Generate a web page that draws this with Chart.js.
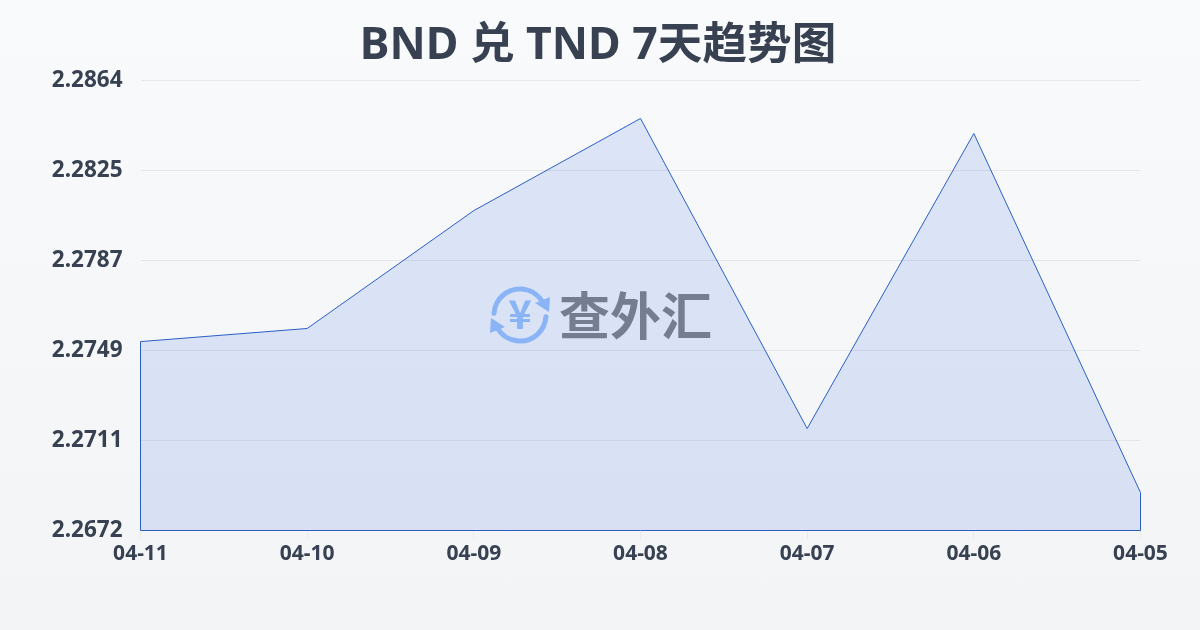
<!DOCTYPE html>
<html><head><meta charset="utf-8">
<style>html,body{margin:0;padding:0;width:1200px;height:630px;overflow:hidden;background:linear-gradient(180deg,#f9fafb 0%,#f3f4f6 100%)}canvas{display:block}</style>
<script src="https://cdn.jsdelivr.net/npm/chart.js@4"></script>
</head><body><canvas id="c" width="1200" height="630"></canvas>
<script>
const titleText = 'BND 兑 TND 7天趋势图';
const categories = ['04-11','04-10','04-09','04-08','04-07','04-06','04-05'];
const rates = [2.27526,2.27582,2.28085,2.28478,2.27155,2.28414,2.26882];
const yTickValues = [2.2672,2.27104,2.27488,2.27872,2.28256,2.2864];
const yTickLabels = ['2.2672','2.2711','2.2749','2.2787','2.2825','2.2864'];
const yMin = 2.2672, yMax = 2.2864;
const watermarkText = '查外汇';
const FONT = '"Noto Sans","Noto Sans CJK SC",sans-serif';
const CJK = '"Noto Sans CJK SC","Noto Sans",sans-serif';
const INK = '#374151', LINE = '#2b5fc7';

const outline = {
  id:'outline',
  afterLayout(ch){ ch.titleBlock.right = 1196; },
  afterDatasetsDraw(ch){
    const {ctx,scales:{x,y}} = ch;
    const b = y.getPixelForValue(yMin);
    ctx.save();
    ctx.strokeStyle = LINE; ctx.lineWidth = 1;
    ctx.beginPath();
    ctx.moveTo(x.getPixelForValue(0), y.getPixelForValue(rates[0]));
    ctx.lineTo(x.getPixelForValue(0), b);
    ctx.lineTo(x.getPixelForValue(rates.length-1), b);
    ctx.lineTo(x.getPixelForValue(rates.length-1), y.getPixelForValue(rates[rates.length-1]));
    ctx.stroke();
    ctx.restore();
  }
};
const watermark = {
  id:'watermark',
  afterDraw(ch){
    const {ctx} = ch;
    ctx.save();
    const cx = 520, cy = 315, r = 26;
    ctx.strokeStyle = '#8ab4f5'; ctx.fillStyle = '#8ab4f5';
    ctx.lineWidth = 5; ctx.lineCap = 'round';
    ctx.beginPath(); ctx.arc(cx,cy,r,Math.PI*1.02,Math.PI*1.85); ctx.stroke();
    ctx.beginPath(); ctx.arc(cx,cy,r,Math.PI*0.02,Math.PI*0.85); ctx.stroke();
    ctx.beginPath(); ctx.moveTo(550,297); ctx.lineTo(549,312); ctx.lineTo(535,303); ctx.closePath(); ctx.fill();
    ctx.beginPath(); ctx.moveTo(490,333); ctx.lineTo(491,318); ctx.lineTo(505,327); ctx.closePath(); ctx.fill();
    ctx.font = 'bold 40px '+CJK; ctx.textAlign='center'; ctx.textBaseline='middle';
    ctx.fillText('¥',cx,cy-1);
    ctx.fillStyle = '#747e90';
    ctx.font = 'bold 51px '+CJK; ctx.textAlign='left';
    ctx.fillText(watermarkText,559,316);
    ctx.restore();
  }
};
new Chart(document.getElementById('c'),{
  type:'line',
  data:{labels:categories,datasets:[{
    data:rates,
    borderColor:LINE,borderWidth:1,tension:0,pointRadius:0,pointHoverRadius:0,
    fill:'start',backgroundColor:'rgba(59,110,225,0.15)'
  }]},
  plugins:[outline,watermark],
  options:{
    responsive:false,animation:false,
    layout:{padding:{left:0,right:59.5,top:0,bottom:0}},
    plugins:{
      legend:{display:false},tooltip:{enabled:false},
      title:{display:true,text:titleText,color:INK,align:'center',
        font:{family:FONT,size:44.6,weight:'bold',lineHeight:1.2},
        padding:{top:20,bottom:6.98}}
    },
    scales:{
      x:{
        offset:false,
        grid:{drawOnChartArea:false,drawTicks:true,tickLength:8,tickColor:'#e8eaed'},
        border:{display:false},
        ticks:{color:INK,font:{family:FONT,size:21,weight:'bold'},maxRotation:0,autoSkip:false,padding:3},
        afterFit(s){s.height=99.5;}
      },
      y:{
        min:yMin,max:yMax,
        afterBuildTicks(s){s.ticks=yTickValues.map(v=>({value:v}));},
        grid:{color:'rgba(209,213,219,0.5)',lineWidth:1,drawTicks:false},
        border:{display:false},
        ticks:{color:INK,font:{family:FONT,size:22.5,weight:'bold'},padding:18,
          callback(v,i){return yTickLabels[i];}},
        afterFit(s){s.width=140.5;}
      }
    }
  }
});
</script></body></html>
